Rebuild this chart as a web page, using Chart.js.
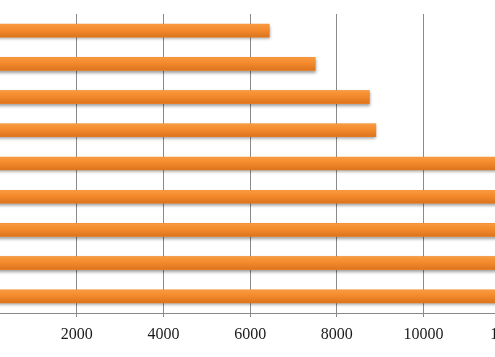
<!DOCTYPE html>
<html>
<head>
<meta charset="utf-8">
<script src="https://cdn.jsdelivr.net/npm/chart.js@4.4.1/dist/chart.umd.min.js"></script>
<style>
html,body{margin:0;padding:0;background:#fff;overflow:hidden;width:495px;height:357px;}
#wrap{position:absolute;left:-22px;top:0;width:647px;height:357px;}
</style>
</head>
<body>
<div id="wrap"><canvas id="c" width="647" height="357"></canvas></div>
<script>
const categories = ["Item 1","Item 2","Item 3","Item 4","Item 5","Item 6","Item 7","Item 8","Item 9"];
const values = [6440, 7500, 8750, 8900, 12300, 12700, 13100, 13500, 13900];
const xTicks = [0, 2000, 4000, 6000, 8000, 10000, 12000, 14000];

const shadowPlugin = {
  id: 'barShadow',
  beforeDatasetsDraw(chart) {
    const ctx = chart.ctx;
    ctx.save();
    ctx.shadowColor = 'rgba(0,0,0,0.38)';
    ctx.shadowBlur = 3;
    ctx.shadowOffsetX = 0;
    ctx.shadowOffsetY = 2;
  },
  afterDatasetsDraw(chart) {
    const ctx = chart.ctx;
    ctx.restore();
    const meta = chart.getDatasetMeta(0);
    const area = chart.chartArea;
    ctx.save();
    ctx.beginPath();
    ctx.rect(area.left, area.top, area.right - area.left, area.bottom - area.top + 4);
    ctx.clip();
    meta.data.forEach(el => {
      const top = el.y - el.height / 2;
      const g = ctx.createLinearGradient(0, top, 0, top + el.height);
      g.addColorStop(0, '#F99A40');
      g.addColorStop(0.45, '#F38A2C');
      g.addColorStop(1, '#DC741E');
      ctx.fillStyle = g;
      ctx.fillRect(Math.min(el.base, el.x), top, Math.abs(el.x - el.base), el.height);
    });
    ctx.restore();
  }
};

new Chart(document.getElementById('c'), {
  type: 'bar',
  data: {
    labels: categories,
    datasets: [{
      data: values,
      backgroundColor: '#F38A2C',
      borderWidth: 0,
      barThickness: 13
    }]
  },
  options: {
    indexAxis: 'y',
    responsive: false,
    animation: false,
    devicePixelRatio: 1,
    layout: { padding: { left: 10, right: 23, top: 14, bottom: 0 } },
    plugins: { legend: { display: false }, tooltip: { enabled: false } },
    scales: {
      x: {
        min: 0,
        max: 14000,
        afterBuildTicks(scale) { scale.ticks = xTicks.map(v => ({ value: v })); },
        afterFit(scale) { scale.height = 44; },
        grid: { color: '#8a8a8a', lineWidth: 1, tickLength: 4, drawOnChartArea: true },
        border: { color: '#8a8a8a', width: 1 },
        ticks: {
          color: '#1a1a1a',
          padding: 8,
          maxRotation: 0,
          autoSkip: false,
          callback: (v) => String(v),
          font: { family: '"Liberation Serif", serif', size: 16 }
        }
      },
      y: {
        display: false
      }
    }
  },
  plugins: [shadowPlugin]
});
</script>
</body>
</html>
